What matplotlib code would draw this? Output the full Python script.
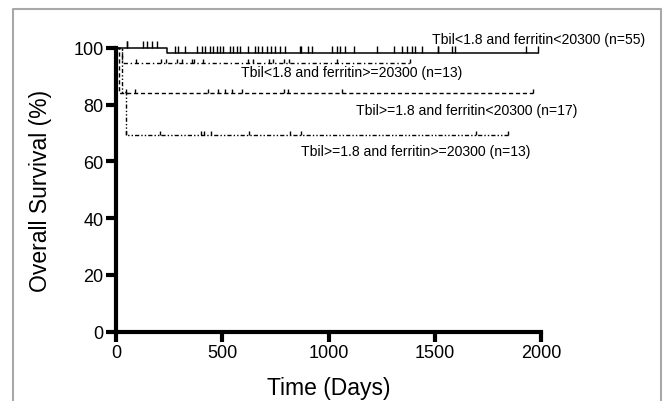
import numpy as np
import matplotlib
matplotlib.use("Agg")
from matplotlib import pyplot as plt
from matplotlib.lines import Line2D

plt.rcParams['font.family'] = ['Liberation Sans', 'DejaVu Sans']

# survival curves (step functions), days / percent
t1 = [0, 240, 1987]
s1 = [100, 98.2, 98.2]
c1 = [50, 54, 125, 145, 168, 192, 278, 292, 325, 380, 403, 420, 443, 458, 475, 490,
      505, 538, 552, 568, 585, 623, 655, 670, 686, 710, 729, 749, 773, 793, 866, 870,
      905, 921, 1016, 1039, 1055, 1078, 1118, 1228, 1306, 1345, 1369, 1392, 1408,
      1439, 1513, 1517, 1581, 1596, 1930, 1987]

t2 = [0, 27, 1382]
s2 = [100, 94.6, 94.6]
c2 = [92, 212, 234, 285, 309, 356, 369, 411, 623, 647, 718, 741, 789, 813, 1040, 1382]

t3 = [0, 14, 1960]
s3 = [100, 84.0, 84.0]
c3 = [46, 89, 432, 482, 513, 548, 592, 789, 810, 1065, 1960]

t4 = [0, 27, 46, 1846]
s4 = [100, 84.6, 69.2, 69.2]
c4 = [46, 208, 400, 413, 447, 627, 818, 870, 1693, 1846]

labels = ["Tbil<1.8 and ferritin<20300 (n=55)",
          "Tbil<1.8 and ferritin>=20300 (n=13)",
          "Tbil>=1.8 and ferritin<20300 (n=17)",
          "Tbil>=1.8 and ferritin>=20300 (n=13)"]


def surv_at(t, times, surv):
    idx = np.searchsorted(times, t, side='right') - 1
    return np.array(surv)[idx]


fig = plt.figure(figsize=(6.65, 4.02), dpi=100)
ax = fig.add_axes([116/665, 1-332.5/402, 425/665, 283.5/402])

styles = [dict(ls='-', lw=1.1),
          dict(ls=(0, (3, 2, 1, 2)), lw=1.0),
          dict(ls=(0, (3, 2)), lw=1.0),
          dict(ls=(0, (3, 1.5, 1, 1.5, 1, 1.5)), lw=1.0)]
ticklen = [2.6, 1.6, 1.6, 1.6]

for (t, s, c), st, tl in zip([(t1, s1, c1), (t2, s2, c2), (t3, s3, c3), (t4, s4, c4)],
                             styles, ticklen):
    ax.step(t, s, where='post', color='black', clip_on=False, **st)
    c = np.array(c)
    y = surv_at(c, t, s)
    ax.vlines(c, y, y + tl, color='black', lw=1.0, clip_on=False)

ax.set_xlim(0, 2000)
ax.set_ylim(0, 100)
ax.set_xticks([0, 500, 1000, 1500, 2000])
ax.set_yticks([0, 20, 40, 60, 80, 100])
for sp in ['top', 'right']:
    ax.spines[sp].set_visible(False)
for sp in ['left', 'bottom']:
    ax.spines[sp].set_linewidth(3)
ax.tick_params(width=3, length=7, labelsize=13, pad=2)
ax.set_xlabel("Time (Days)", fontsize=16.5, labelpad=11)
ax.set_ylabel("Overall Survival (%)", fontsize=16.5, labelpad=15)

# curve labels
fs = 10.1
fig.text(432/665, 1-40/402, labels[0], ha='left', va='center', fontsize=fs)
fig.text(241/665, 1-73/402, labels[1], ha='left', va='center', fontsize=fs)
fig.text(356/665, 1-111/402, labels[2], ha='left', va='center', fontsize=fs)
fig.text(301/665, 1-152/402, labels[3], ha='left', va='center', fontsize=fs)

# grey frame around the panel
fx = [13/665, 13/665, 661/665, 661/665]
fy = [0, 1-10/402, 1-10/402, 0]
fig.add_artist(Line2D(fx, fy, color='#a8a8a8', lw=1.5, transform=fig.transFigure))

fig.savefig("out.png", dpi=100)
